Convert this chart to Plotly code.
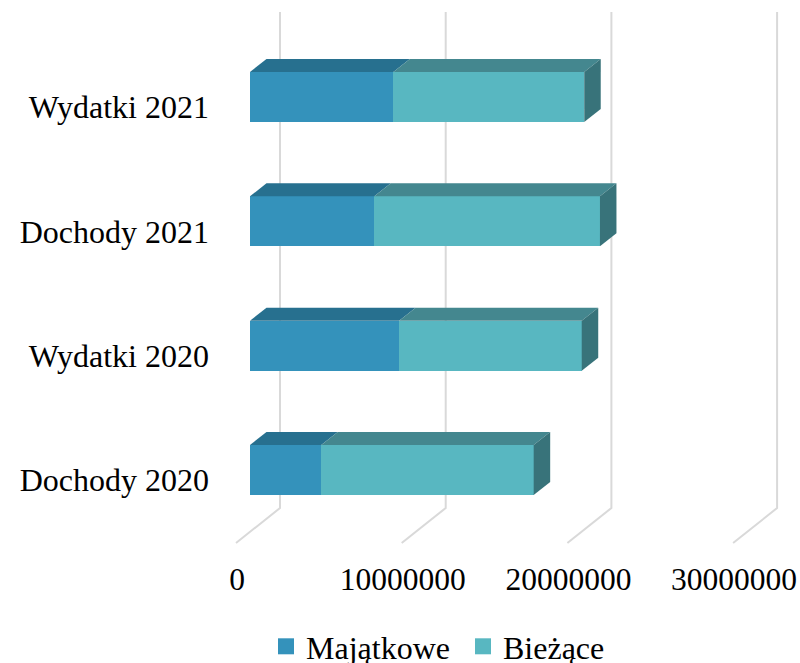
import plotly.graph_objects as go

categories = ["Dochody 2020", "Wydatki 2020", "Dochody 2021", "Wydatki 2021"]
majatkowe = [4300000, 9000000, 7500000, 8650000]
biezace = [12820000, 11020000, 13620000, 11520000]
x_ticks = [0, 10000000, 20000000, 30000000]

FONT = "Liberation Serif"
BLUE, BLUE_TOP = "#3492bb", "#27708f"
TEAL, TEAL_TOP, TEAL_SIDE = "#58b7c1", "#44878f", "#38737a"
GRID = "#d9d9d9"

W, H = 800, 663
PX_PER_X = 165.7 / 1e7
PX_PER_Y = 124.33
PLOT_LEFT, PLOT_BOTTOM = 212, 554
ZERO_PX = 250
CAT0_PX = 470
x_min = (PLOT_LEFT - ZERO_PX) / PX_PER_X
x_max = (W - ZERO_PX) / PX_PER_X
y_min = (CAT0_PX - PLOT_BOTTOM) / PX_PER_Y
y_max = CAT0_PX / PX_PER_Y
BAR_W = 50 / PX_PER_Y
DX = 16.5 / PX_PER_X
DY = 13 / PX_PER_Y

fig = go.Figure()


def poly(xs, ys, color):
    fig.add_trace(go.Scatter(x=xs, y=ys, mode="lines", fill="toself", fillcolor=color,
                             line=dict(width=0, color=color), showlegend=False,
                             hoverinfo="skip"))


fig.add_trace(go.Bar(name="Majątkowe", y=list(range(4)), x=majatkowe, orientation="h",
                     width=BAR_W, marker=dict(color=BLUE, line=dict(width=0)), showlegend=False))
fig.add_trace(go.Bar(name="Bieżące", y=list(range(4)), x=biezace, orientation="h",
                     width=BAR_W, marker=dict(color=TEAL, line=dict(width=0)), showlegend=False))

for i, (a, b) in enumerate(zip(majatkowe, biezace)):
    top = i + BAR_W / 2
    bot = i - BAR_W / 2
    end = a + b
    poly([0, a, a + DX, DX, 0], [top, top, top + DY, top + DY, top], BLUE_TOP)
    poly([a, end, end + DX, a + DX, a], [top, top, top + DY, top + DY, top], TEAL_TOP)
    poly([end, end + DX, end + DX, end, end], [top, top + DY, bot + DY, bot, top], TEAL_SIDE)

# Legend keys with the reference's larger square swatches
for name, color in [("Majątkowe", BLUE), ("Bieżące", TEAL)]:
    fig.add_trace(go.Scatter(name=name, x=[None], y=[None], mode="markers",
                             marker=dict(symbol="square", size=16, color=color,
                                         line=dict(width=0))))

shapes = []
front_dx, back_dx = -14 / PX_PER_X, 30 / PX_PER_X
front_y = (CAT0_PX - 543) / PX_PER_Y
back_y = (CAT0_PX - 508) / PX_PER_Y
top_y = (CAT0_PX - 12) / PX_PER_Y
for v in x_ticks:
    shapes.append(dict(type="path", layer="below", xref="x", yref="y",
                       path=f"M{v + front_dx},{front_y} L{v + back_dx},{back_y} L{v + back_dx},{top_y}",
                       line=dict(color=GRID, width=2)))

fig.update_layout(
    width=W, height=H,
    margin=dict(l=PLOT_LEFT, r=0, t=0, b=H - PLOT_BOTTOM, pad=0, autoexpand=False),
    paper_bgcolor="white", plot_bgcolor="white",
    barmode="stack", shapes=shapes,
    font=dict(family=FONT, size=32, color="#000000"),
    showlegend=True,
    legend=dict(orientation="h", x=(266 - PLOT_LEFT) / (W - PLOT_LEFT), xref="paper",
                xanchor="left", y=-(619 - PLOT_BOTTOM) / PLOT_BOTTOM, yanchor="top",
                font=dict(family=FONT, size=32), itemwidth=30, traceorder="normal",
                entrywidth=152, entrywidthmode="pixels",
                itemsizing="trace", itemclick=False, itemdoubleclick=False),
    xaxis=dict(range=[x_min, x_max], tickmode="array", tickvals=x_ticks,
               ticktext=[str(v) for v in x_ticks], showgrid=False, zeroline=False,
               showline=False, ticks="", ticklabelshift=-13, ticklabelstandoff=3,
               tickfont=dict(family=FONT, size=31.5), automargin=False),
    yaxis=dict(range=[y_min, y_max], tickmode="array", tickvals=list(range(4)),
               ticktext=categories, showgrid=False, zeroline=False, showline=False,
               ticks="", ticklabelshift=10, ticklabelstandoff=2, automargin=False),
)
fig.write_html("out.html", config={"displayModeBar": False},
               post_script="document.body.style.margin='0';"
                           "document.documentElement.style.overflow='hidden';")
